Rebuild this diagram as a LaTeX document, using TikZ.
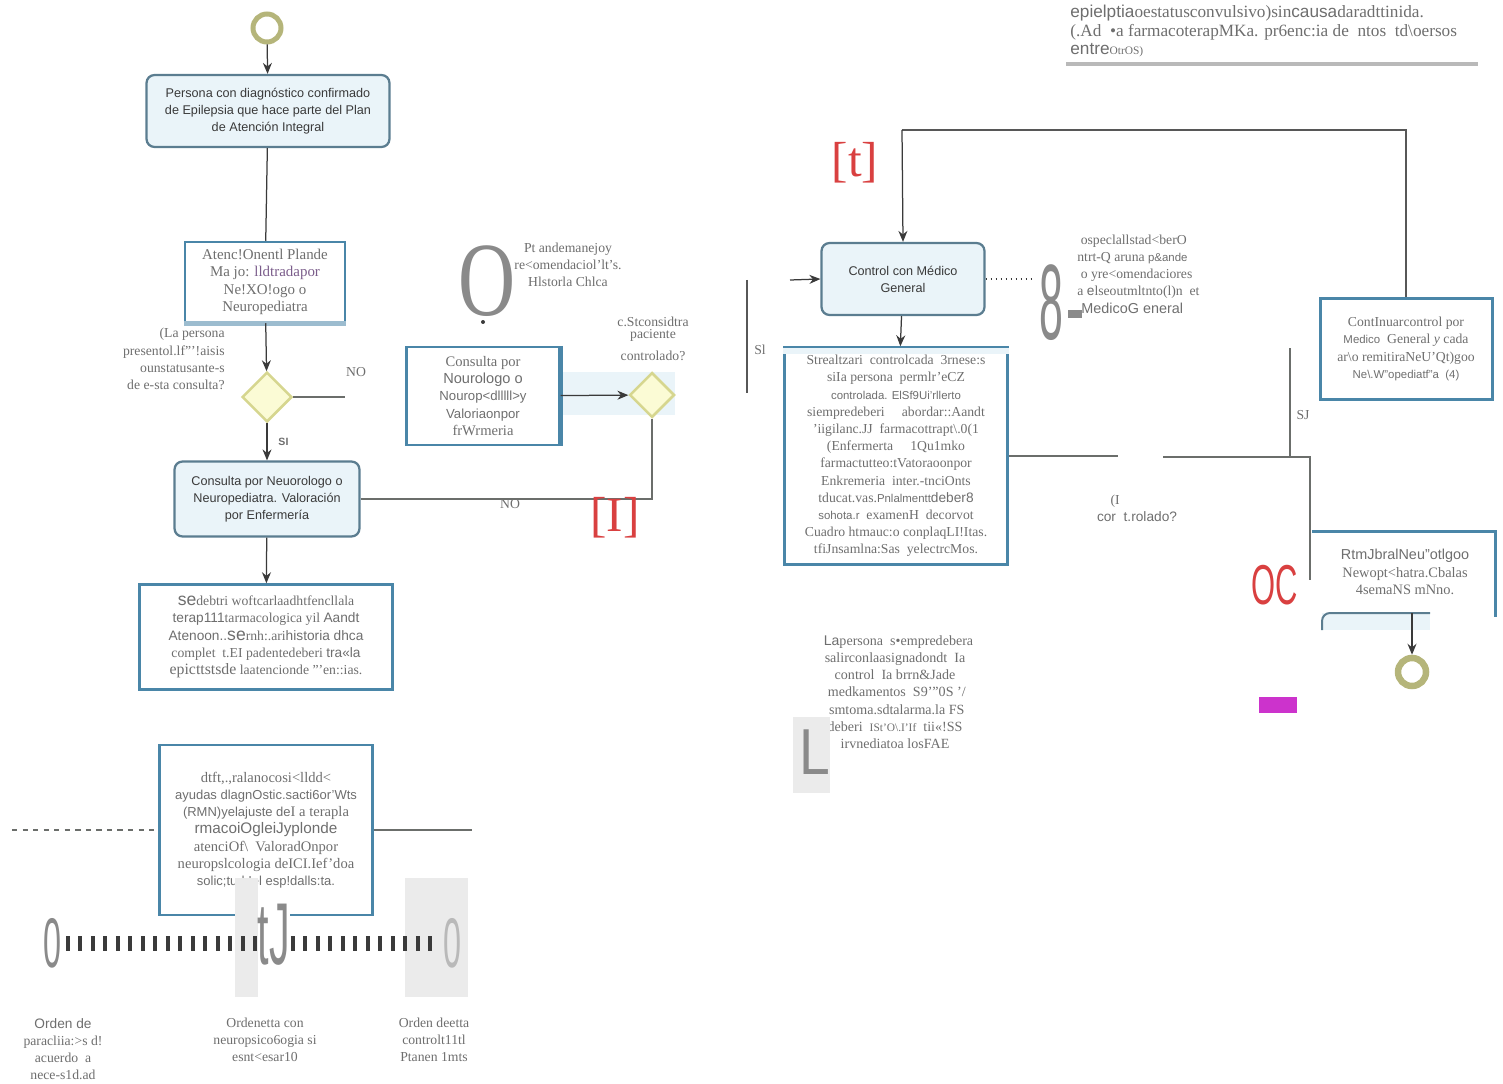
\documentclass[tikz,border=0pt]{standalone}
\usepackage{fontspec}
\setmainfont{Liberation Serif}
\setsansfont{Liberation Sans}
\usetikzlibrary{shapes.geometric,arrows.meta}
\definecolor{boxblue}{HTML}{4A86A8}
\definecolor{edgeblue}{HTML}{5B7D90}
\definecolor{boxfill}{HTML}{EAF4F9}
\definecolor{linegray}{HTML}{6B6E6B}
\definecolor{txtgray}{HTML}{6E6E6E}
\definecolor{darktxt}{HTML}{3A3A3A}
\definecolor{ringolive}{HTML}{B5B57A}
\definecolor{diafill}{HTML}{FBFBD5}
\definecolor{diadraw}{HTML}{D6D68F}
\definecolor{redtxt}{HTML}{D94040}
\definecolor{marker}{HTML}{CC33CC}
\definecolor{shadebg}{HTML}{EBEBEB}
\definecolor{glyphgray}{HTML}{8A8A8A}
\definecolor{ocrpurple}{HTML}{7A5C8A}
\newcommand{\smallsf}{\sffamily\fontsize{6.5}{9.8}\selectfont}
\tikzset{
  >={Stealth[length=0.22cm,width=0.18cm]},
  evt/.style={circle,draw=ringolive,line width=0.1cm,minimum size=0.56cm,inner sep=0pt},
  taskbox/.style={rounded corners=0.16cm,draw=edgeblue,fill=boxfill,line width=0.045cm,align=center,
    font=\sffamily\fontsize{7.2}{9.6}\selectfont,text=darktxt,inner sep=0pt},
  notebox/.style={draw=boxblue,line width=0.05cm,align=center,inner sep=0pt,
    font=\fontsize{7.8}{9.8}\selectfont,text=txtgray},
  gatebox/.style={diamond,draw=diadraw,fill=diafill,line width=0.05cm,minimum size=1cm,inner sep=0pt},
  flowarrow/.style={->,darktxt,line width=0.025cm},
  connector/.style={linegray,line width=0.05cm},
  remark/.style={font=\fontsize{7.8}{9.8}\selectfont,text=txtgray,align=center,inner sep=0pt},
  glyph/.style={text=glyphgray,inner sep=0pt},
  redmark/.style={text=redtxt,inner sep=0pt},
}
\begin{document}
\begin{tikzpicture}[x=0.02cm,y=-0.02cm]
\useasboundingbox (0,0) rectangle (1503,1084);

\node[evt] (start) at (267,28) {};
\node[taskbox,minimum width=4.86cm,minimum height=1.44cm] (diag) at (268,111)
  {Persona con diagnóstico confirmado\\de Epilepsia que hace parte del Plan\\de Atención Integral};
\node[notebox,minimum width=3.2cm,minimum height=1.6cm,font=\fontsize{8.5}{9.8}\selectfont] (plan) at (265,282)
  {Atenc!Onentl Plande\\Ma\ jo: \textcolor{ocrpurple}{lldtradapor}\\Ne!XO!ogo o\\Neuropediatra};
\draw[boxblue!55,line width=0.1cm] (plan.south west) -- (plan.south east);
\node[gatebox] (seizure) at (267,397) {};
\node[remark,align=right,anchor=east] (askseiz) at (225,359)
  {(La persona\\presentol.lf"'!aisis\\ounstatusante-s\\de e-sta consulta?};
\coordinate (nostub) at (345,397);
\node[remark] (nolabel) at (356,372) {NO};
\node[taskbox,minimum width=3.7cm,minimum height=1.5cm] (consult) at (267,499)
  {Consulta por Neuorologo o\\Neuropediatra. Valoración\\por Enfermería};

\draw[flowarrow] (start) -- (diag);
\draw[darktxt,line width=0.025cm] (diag) -- (plan);
\draw[flowarrow] (plan) -- (seizure);
\draw[linegray,line width=0.03cm] (seizure.east) -- (nostub);
\draw[flowarrow] (seizure) -- (consult) node[midway,right=0.1cm,font=\sffamily\bfseries\fontsize{6}{6}\selectfont,text=txtgray] {SI};

\fill[boxfill] (560,372) rectangle (675,415);
\node[notebox,minimum width=3.06cm,minimum height=1.96cm,font=\fontsize{8.3}{9.9}\selectfont] (nurse) at (483,396)
  {Consulta por\\{\sffamily Nourologo o}\\{\sffamily\fontsize{7.5}{9.9}\selectfont Nourop<dlllll>y}\\{\sffamily\fontsize{7.5}{9.9}\selectfont Valoriaonpor}\\frWrmeria};
\draw[boxblue,line width=0.09cm] (nurse.north east) -- (nurse.south east);
\node[gatebox,minimum size=0.9cm] (controlled) at (652,395) {};
\draw[flowarrow] (nurse) -- (controlled);
\draw[linegray,line width=0.03cm] (consult.east) -| (controlled.south);
\node[remark] (nolabel2) at (510,504) {NO};

\node[glyph,font=\fontsize{60}{60}\selectfont] (bigo) at (487,281) {\scalebox{0.75}[1]{O}};
\fill[darktxt] (483,322) circle (0.04cm);
\node[remark] (guide) at (568,265) {Pt andemanejoy\\re<omendaciol'lt's.\\Hlstorla Chlca};
\node[remark] (askctrl) at (653,339) {c.Stconsidtra\\[-3pt]paciente\\[3pt]controlado?};
\node[redmark,font=\fontsize{28}{28}\selectfont] (markI) at (615,518) {{[}I{]}};

\node[notebox,minimum width=5.06cm,minimum height=2.1cm] (therapy) at (266,637)
  {{\sffamily\fontsize{10}{9.8}\selectfont se}debtri woftcarlaadhtfencllala\\
   {\sffamily terap111}tarmacologica yil {\sffamily Aandt}\\
   {\sffamily Atenoon..}{\sffamily\fontsize{10}{9.8}\selectfont se}rnh:.ari{\sffamily historia dhca}\\
   complet \ t.EI padentedeberi {\sffamily tra«la}\\
   {\fontsize{9}{9.8}\selectfont epicttstsde} laatencionde '''en::ias.};
\draw[flowarrow] (consult) -- (therapy);

\node[notebox,minimum width=4.26cm,minimum height=3.4cm,font=\fontsize{8.3}{9.8}\selectfont] (studies) at (266,830)
  {dtft,.,ralanocosi<lldd<\\
   {\sffamily\fontsize{7.4}{9.8}\selectfont ayudas dlagnOstic.sacti6or'Wts}\\
   {\sffamily\fontsize{7.4}{9.8}\selectfont (RMN)yelajuste de}I a terapla\\
   {\sffamily\fontsize{8.7}{9.8}\selectfont rmacoiOgleiJyplonde}\\
   atenciOf\textbackslash\ \ ValoradOnpor\\
   neuropslcologia deICI.Ief'doa\\
   {\sffamily\fontsize{7.4}{9.8}\selectfont solic;tud !el esp!dalls:ta.}};
\coordinate (leftend) at (12,830);
\coordinate (rightend) at (472,830);
\draw[linegray,dashed,line width=0.03cm] (leftend) -- (studies.west);
\draw[connector] (studies.east) -- (rightend);

\fill[shadebg] (235,878) rectangle (258,997);
\fill[shadebg] (405,878) rectangle (468,997);
\coordinate (tlstart) at (66,943);
\coordinate (tlend) at (440,943);
\draw[darktxt,line width=0.3cm,dash pattern=on 0.08cm off 0.17cm] (tlstart) -- (tlend);
\node[glyph,font=\sffamily\fontsize{40}{40}\selectfont] (zeroleft) at (52,943) {\scalebox{0.46}[1]{0}};
\node[glyph,fill=white,font=\sffamily\fontsize{50}{50}\selectfont] (tjmark) at (274,935) {\scalebox{0.47}[1]{tJ}};
\node[glyph,text=gray!55,font=\sffamily\fontsize{40}{40}\selectfont] (zeroright) at (452,943) {\scalebox{0.46}[1]{0}};
\node[remark] (ordpara) at (63,1049) {{\sffamily Orden de}\\paracliia:>s d!\\acuerdo \ a\\nece-s1d.ad};
\node[remark] (ordneuro) at (265,1040) {Ordenetta con\\neuropsico6ogia si\\esnt<esar10};
\node[remark] (ordctrl) at (434,1040) {Orden deetta\\controlt11tl\\Ptanen 1mts};

\node[remark,align=left,anchor=west,font=\fontsize{9.8}{10.3}\selectfont] (causes) at (1070,31)
  {{\sffamily epielptia}oestatusconvulsivo)sin{\sffamily causa}daradttinida.\\
   (.Ad \ •a farmacoterapMKa. pr6enc:ia de \ ntos \ td\textbackslash oersos\\
   {\sffamily entre}{\fontsize{6.5}{10.3}\selectfont OtrOS)}};
\draw[gray!55,line width=0.08cm] (1066,64) -- (1478,64);

\node[redmark,font=\fontsize{28}{28}\selectfont] (markt) at (855,163) {{[}t{]}};
\node[taskbox,minimum width=3.26cm,minimum height=1.44cm] (gp) at (903,279) {Control con Médico\\General};
\node[notebox,line width=0.06cm,minimum width=3.44cm,minimum height=2.04cm] (keep) at (1406,349)
  {ContInuarcontrol por\\
   {\smallsf Medico} \ General {\itshape y} cada\\
   ar\textbackslash o remitiraNeU'Qt)goo\\
   {\smallsf Ne\textbackslash.W"opediatf"a \ (4)}};
\coordinate (loopl) at (902,130);
\coordinate (loopr) at (1406,130);
\draw[darktxt!85,line width=0.03cm] (keep.north) -- (loopr) -- (loopl);
\draw[flowarrow] (loopl) -- (gp.north);

\coordinate (sitop) at (747,280);
\coordinate (sibot) at (747,393);
\draw[darktxt!85,line width=0.03cm] (sitop) -- (sibot);
\node[remark] (silabel) at (760,350) {Sl};
\coordinate (gpin) at (790,280);
\draw[flowarrow] (gpin) -- (gp.west);

\coordinate (assoc) at (1035,279);
\draw[darktxt,dotted,line width=0.03cm] (gp.east) -- (assoc);
\node[glyph,font=\sffamily\fontsize{61}{61}\selectfont] (eight) at (1051,303) {\scalebox{0.4}[1]{8}};
\fill[glyphgray] (1068,310) rectangle (1082,318);
\node[remark,align=left,anchor=west] (spec) at (1077,274)
  {\ ospeclallstad<berO\\ntrt-Q aruna {\smallsf p\&ande}\\\ o yre<omendaciores\\a {\sffamily e}lseoutmltnto(l)n \ et\\{\sffamily\fontsize{8.2}{9.8}\selectfont \ MedicoG eneral}};

\node[notebox,minimum width=4.46cm,minimum height=4.34cm,font=\fontsize{7.8}{9.8}\selectfont] (routine) at (896,456)
  {Strealtzari \ controlcada \ 3rnese:s\\
   siIa persona \ permlr'eCZ\\
   {\smallsf controlada. ElSf9Ui'rllerto}\\
   siempredeberi \quad abordar::Aandt\\
   'iigilanc.JJ \ farmacottrapt\textbackslash.0(1\\
   (Enfermerta \quad 1Qu1mko\\
   farmactutteo:tVatoraoonpor\\
   Enkremeria \ inter.-tnciOnts\\
   tducat.vas.{\smallsf Pnlalmentt}{\sffamily deber8}\\
   {\smallsf sohota.r} \ examenH \ decorvot\\
   Cuadro htmauc:o conplaqLI!Itas.\\
   tfiJnsamlna:Sas \ yelectrcMos.};
\fill[boxfill] ([yshift=-0.03cm]routine.north west) rectangle ([yshift=-0.16cm]routine.north east);
\draw[flowarrow] (gp) -- (routine);

\coordinate (gapl) at (1118,456);
\coordinate (gapr) at (1163,457);
\coordinate (sjtop) at (1290,348);
\coordinate (sjfoot) at (1290,457);
\coordinate (corner) at (1310,457);
\coordinate (refbot) at (1310,580);
\draw[connector] (routine.east) -- (gapl);
\draw[connector] (gapr) -- (corner) -- (refbot);
\draw[connector] (sjtop) -- (sjfoot);
\node[remark] (sjlabel) at (1303,415) {SJ};
\node[remark] (askctrl2) at (1137,508) {\hspace*{-3.2em}(I\\{\sffamily cor \ t.rolado?}};

\coordinate (refnw) at (1312,531);
\coordinate (refne) at (1495,531);
\coordinate (refse) at (1495,617);
\draw[boxblue,line width=0.06cm] (refnw) -- (refne) -- (refse);
\node[remark,font=\fontsize{8.2}{9.8}\selectfont] (referral) at (1405,572)
  {{\sffamily RtmJbralNeu"otlgoo}\\Newopt<hatra.Cbalas\\4semaNS mNno.};
\node[redmark,font=\sffamily\fontsize{32}{32}\selectfont] (markoc) at (1275,585) {\scalebox{0.55}[1]{OC}};

\fill[boxfill] (1322,613) rectangle (1430,630);
\draw[edgeblue,line width=0.04cm,rounded corners=0.16cm] (1322,630) -- (1322,613) -- (1430,613);
\coordinate (endin) at (1412,613);
\node[evt,line width=0.13cm] (finish) at (1412,672) {};
\draw[flowarrow] (endin) -- (finish);
\fill[marker] (1259,697) rectangle (1297,713);

\node[remark,font=\fontsize{8}{9.8}\selectfont] (advice) at (895,692)
  {\ \ {\sffamily La}persona \ s•empredebera\\
   salirconlaasignadondt \ Ia\\
   control \ Ia brrn\&Jade\\
   \ medkamentos \ S9'"0S '/\\
   \ smtoma.sdtalarma.la FS\\
   deberi \ {\fontsize{6.5}{9.8}\selectfont ISt'O\textbackslash.I'If} \ tii«!SS\\
   irvnediatoa losFAE};
\fill[shadebg] (793,717) rectangle (830,793);
\node[glyph,font=\sffamily\fontsize{37}{37}\selectfont] (ell) at (815,752) {\scalebox{0.85}[1]{L}};
\end{tikzpicture}
\end{document}
